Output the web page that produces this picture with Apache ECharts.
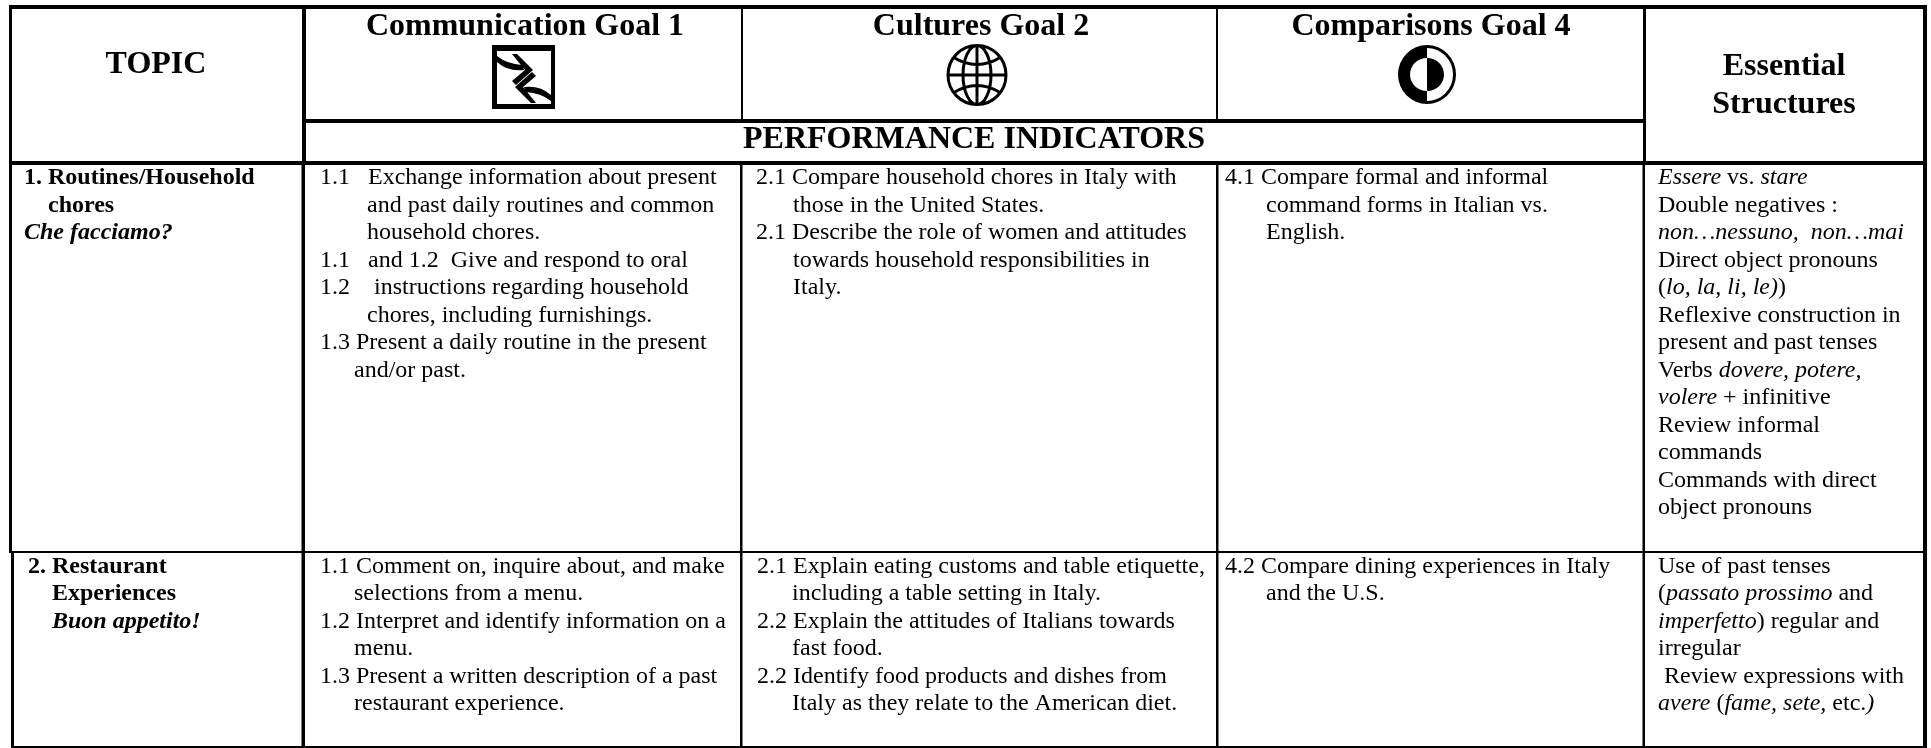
<!DOCTYPE html>
<html>
<head>
<meta charset="utf-8">
<title>Performance indicators</title>
<style>
  html, body { margin: 0; padding: 0; background: #fff; }
  #main { width: 1931px; height: 748px; }
</style>
<script src="https://cdn.jsdelivr.net/npm/echarts@6/dist/echarts.min.js"></script>
</head>
<body>
<div id="main"></div>
<script>
// table text, one array per cell
const headTopic = ['TOPIC'];
const headComm = ['Communication Goal 1'];
const headCult = ['Cultures Goal 2'];
const headComp = ['Comparisons Goal 4'];
const headPerf = ['PERFORMANCE INDICATORS'];
const headStruct = ['Essential', 'Structures'];

const topicRow1 = ['1. Routines/Household', 'chores', '{bi|Che facciamo?}'];
const commRow1 = [
  '1.1   Exchange information about present',
  'and past daily routines and common',
  'household chores.',
  '1.1   and 1.2  Give and respond to oral',
  '1.2    instructions regarding household',
  'chores, including furnishings.',
  '1.3 Present a daily routine in the present',
  'and/or past.'
];
const cultRow1 = [
  '2.1 Compare household chores in Italy with',
  'those in the United States.',
  '2.1 Describe the role of women and attitudes',
  'towards household responsibilities in',
  'Italy.'
];
const compRow1 = [
  '4.1 Compare formal and informal',
  'command forms in Italian vs.',
  'English.'
];
const structRow1 = [
  '{i|Essere} vs. {i|stare}',
  'Double negatives :',
  '{i|non…nessuno,  non…mai}',
  'Direct object pronouns',
  '({i|lo, la, li, le)})',
  'Reflexive construction in',
  'present and past tenses',
  'Verbs {i|dovere, potere,}',
  '{i|volere} + infinitive',
  'Review informal',
  'commands',
  'Commands with direct',
  'object pronouns'
];

const topicRow2 = ['2. Restaurant', 'Experiences', '{bi|Buon appetito!}'];
const commRow2 = [
  '1.1 Comment on, inquire about, and make',
  'selections from a menu.',
  '1.2 Interpret and identify information on a',
  'menu.',
  '1.3 Present a written description of a past',
  'restaurant experience.'
];
const cultRow2 = [
  '2.1 Explain eating customs and table etiquette,',
  'including a table setting in Italy.',
  '2.2 Explain the attitudes of Italians towards',
  'fast food.',
  '2.2 Identify food products and dishes from',
  'Italy as they relate to the American diet.'
];
const compRow2 = [
  '4.2 Compare dining experiences in Italy',
  'and the U.S.'
];
const structRow2 = [
  'Use of past tenses',
  '({i|passato prossimo} and',
  '{i|imperfetto}) regular and',
  'irregular',
  ' Review expressions with',
  '{i|avere} ({i|fame, sete,} etc.{i|)}'
];

// layout, kept apart from the text
const HEAD_FONT = 32, BODY_FONT = 24, LINE_H = 27.5;
const rowY = { one: 178, two: 566.5 };

const leftCells = [
  // lines, x, first y, hanging indent per line
  { lines: topicRow1, x: 24, y: rowY.one, ind: [0, 24, 0], bold: true },
  { lines: commRow1, x: 320, y: rowY.one, ind: [0, 47, 47, 0, 0, 47, 0, 34] },
  { lines: cultRow1, x: 756, y: rowY.one, ind: [0, 37, 0, 37, 37] },
  { lines: compRow1, x: 1225, y: rowY.one, ind: [0, 41, 41] },
  { lines: structRow1, x: 1658, y: rowY.one, ind: [] },
  { lines: topicRow2, x: 28, y: rowY.two, ind: [0, 24, 24], bold: true },
  { lines: commRow2, x: 320, y: rowY.two, ind: [0, 34, 0, 34, 0, 34] },
  { lines: cultRow2, x: 757, y: rowY.two, ind: [0, 35, 0, 35, 0, 35] },
  { lines: compRow2, x: 1225, y: rowY.two, ind: [0, 41] },
  { lines: structRow2, x: 1658, y: rowY.two, ind: [] }
];
const headCells = [
  { lines: headTopic, x: 156, y: 65 },
  { lines: headComm, x: 525, y: 27 },
  { lines: headCult, x: 981, y: 27 },
  { lines: headComp, x: 1431, y: 27 },
  { lines: headPerf, x: 974, y: 140 },
  { lines: headStruct, x: 1784, y: 67, step: 38 }
];

// rules: [x0, y0, x1, y1]
const ruleRects = [
  [9, 5, 1927, 9],
  [304, 119, 1646, 123],
  [9, 161, 1927, 165],
  [9, 551, 1927, 553],
  [11, 746, 1927, 748],
  [9, 5, 12, 552],
  [11, 552, 14, 748],
  [302, 5, 306, 165],
  [301.5, 165, 305, 748],
  [741, 5, 743, 120],
  [740, 163, 742.5, 748],
  [1216, 5, 1218, 120],
  [1216, 163, 1218.5, 748],
  [1643, 5, 1646, 165],
  [1642.5, 165, 1645, 748],
  [1923, 5, 1927, 748]
];

const textItems = [];
leftCells.forEach(function (c) {
  c.lines.forEach(function (t, i) {
    textItems.push({
      text: t,
      x: c.x + (c.ind[i] || 0),
      y: c.y + i * LINE_H,
      size: BODY_FONT,
      bold: !!c.bold,
      align: 'left'
    });
  });
});
headCells.forEach(function (c) {
  c.lines.forEach(function (t, i) {
    textItems.push({
      text: t,
      x: c.x,
      y: c.y + i * (c.step || 0),
      size: HEAD_FONT,
      bold: true,
      align: 'center'
    });
  });
});

const serif = '"Liberation Serif", "Times New Roman", serif';

// the three goal icons, painted in this order
const iconPaths = [
  { fill: '#000', d: [
    'M492,45 L555,45 L555,109 L492,109 Z M497,51 L497,104 L551,104 L551,51 Z',
    'M497,56 Q507,64 522,65 L524,70 Q508,72 497,62 Z',
    'M512,54 L517,54 L533,70 L516,85 L512,81 L525,70 Z',
    'M551,101 Q541,93 526,92 L524,87 Q540,85 551,95 Z',
    'M536,103 L531,103 L515,87 L532,72 L536,76 L523,87 Z'
  ].join(' ') },
  { fill: 'none', stroke: '#000', lineWidth: 3, d: [
    'M948,75 A29,29.5 0 1 1 1006,75 A29,29.5 0 1 1 948,75 Z',
    'M963,75 A14,29.5 0 1 1 991,75 A14,29.5 0 1 1 963,75 Z',
    'M948,75 L1006,75 M977,45 L977,104',
    'M953,57 Q977,72 1001,57 M953,93 Q977,78 1001,93'
  ].join(' ') },
  { fill: '#000', d: 'M1398,74.5 A29,29.5 0 1 1 1456,74.5 A29,29.5 0 1 1 1398,74.5 Z' },
  { fill: '#fff', d: 'M1427,48 A26,26.5 0 0 1 1427,101 Z' },
  { fill: '#000', d: 'M1427,58 A17,16.5 0 0 1 1427,91 Z' },
  { fill: '#fff', d: 'M1427,58 A17,16.5 0 0 0 1427,91 Z' }
];

const chart = echarts.init(document.getElementById('main'));
chart.setOption({
  animation: false,
  backgroundColor: '#ffffff',
  grid: { left: 0, right: 0, top: 0, bottom: 0 },
  xAxis: { type: 'value', min: 0, max: 1931, show: false },
  yAxis: { type: 'value', min: 0, max: 748, inverse: true, show: false },
  tooltip: { show: false },
  series: [
    {
      type: 'custom',
      coordinateSystem: 'cartesian2d',
      silent: true,
      data: ruleRects,
      encode: { x: [0, 2], y: [1, 3] },
      renderItem: function (params, api) {
        const a = api.coord([api.value(0), api.value(1)]);
        const b = api.coord([api.value(2), api.value(3)]);
        return {
          type: 'rect',
          shape: { x: a[0], y: a[1], width: b[0] - a[0], height: b[1] - a[1] },
          style: { fill: '#000' }
        };
      }
    },
    {
      type: 'custom',
      coordinateSystem: 'cartesian2d',
      silent: true,
      data: iconPaths.map(function (p, i) { return [0, 0, i]; }),
      renderItem: function (params) {
        const p = iconPaths[params.dataIndex];
        return {
          type: 'path',
          shape: { pathData: p.d },
          style: { fill: p.fill, stroke: p.stroke || null, lineWidth: p.lineWidth || 0 }
        };
      }
    },
    {
      type: 'custom',
      coordinateSystem: 'cartesian2d',
      silent: true,
      data: textItems.map(function (t) { return [t.x, t.y]; }),
      renderItem: function (params, api) {
        const t = textItems[params.dataIndex];
        const p = api.coord([api.value(0), api.value(1)]);
        return {
          type: 'text',
          style: {
            text: t.text,
            x: p[0],
            y: p[1],
            fill: '#000',
            align: t.align,
            verticalAlign: 'middle',
            fontFamily: serif,
            fontSize: t.size,
            fontWeight: t.bold ? 'bold' : 'normal',
            rich: {
              i: { fontFamily: serif, fontSize: t.size, fontStyle: 'italic', fill: '#000' },
              bi: { fontFamily: serif, fontSize: t.size, fontStyle: 'italic', fontWeight: 'bold', fill: '#000' }
            }
          }
        };
      }
    }
  ]
});
</script>
</body>
</html>
